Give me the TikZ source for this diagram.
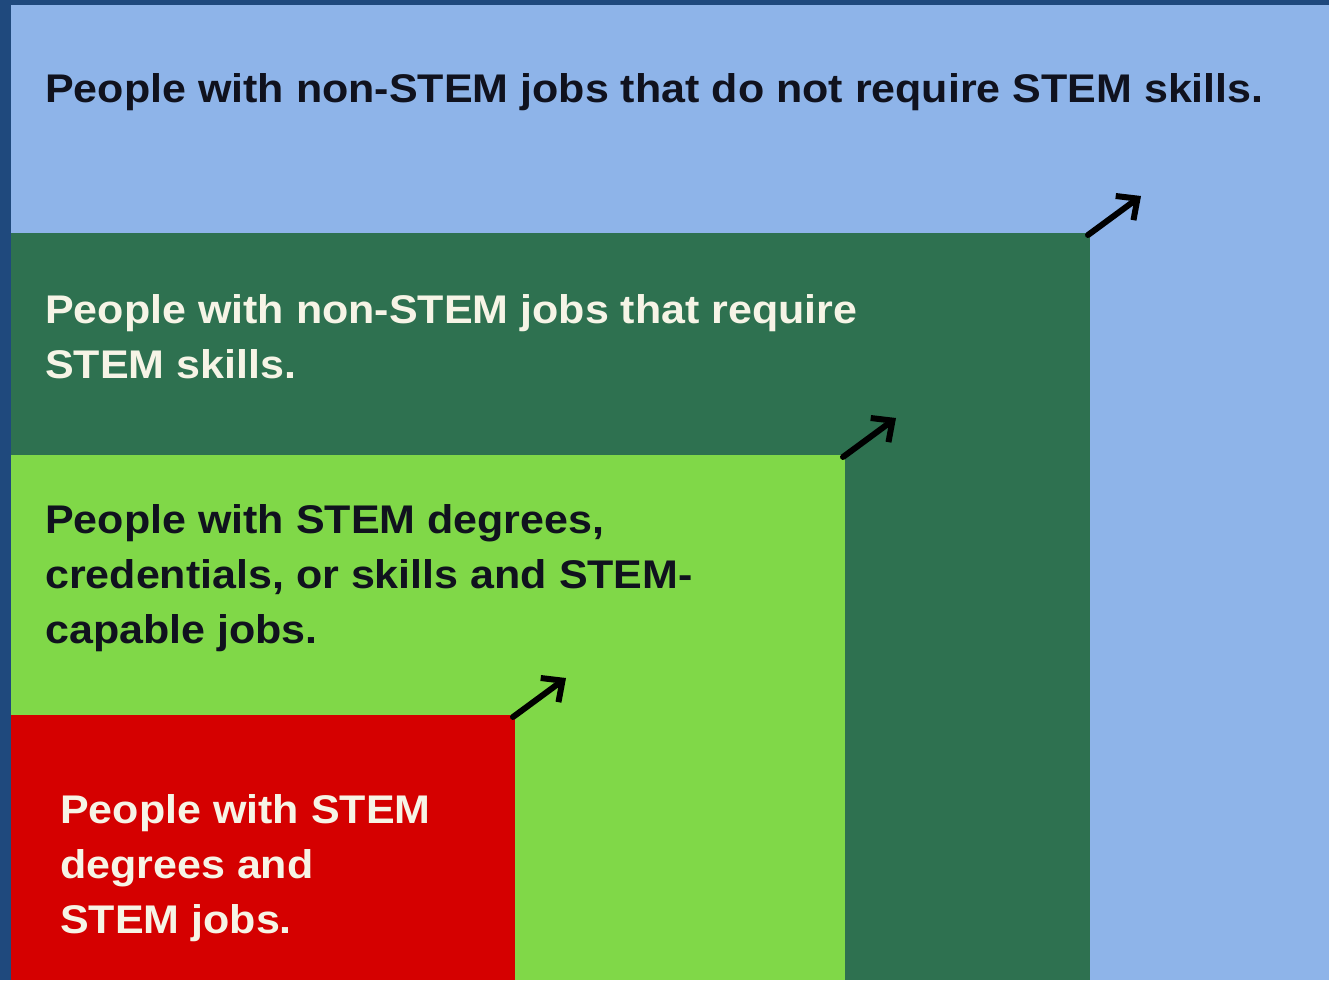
\documentclass[tikz,border=0pt]{standalone}
\usepackage{fontspec}
\setmainfont{Liberation Sans}[FakeStretch=1.075]
\usetikzlibrary{arrows.meta}
\definecolor{borderblue}{HTML}{1F497D}
\definecolor{lightblue}{HTML}{8EB4E9}
\definecolor{darkgreen}{HTML}{2E7150}
\definecolor{lightgreen}{HTML}{80D848}
\definecolor{stemred}{HTML}{D50000}
\definecolor{darktext}{HTML}{10121E}
\definecolor{lighttext}{HTML}{F6F4E6}
\tikzset{
  lbl/.style={anchor=base west, inner sep=0pt, font=\bfseries\fontsize{40}{55}\selectfont, align=left},
  growarrow/.style={line width=6pt, -{Straight Barb[length=16pt,width=30pt,line width=6pt]}, line cap=round, black}
}
\begin{document}
\begin{tikzpicture}[x=1pt,y=-1pt]
\useasboundingbox (0,0) rectangle (1329,980);
\fill[borderblue] (0,0) rectangle (1329,980);
\fill[lightblue] (11,5) rectangle (1329,980);
\fill[darkgreen] (11,233) rectangle (1090,980);
\fill[lightgreen] (11,455) rectangle (845,980);
\fill[stemred] (11,715) rectangle (515,980);
\coordinate (c1) at (1088,235);
\coordinate (e1) at (1141,196);
\coordinate (c2) at (843,457);
\coordinate (e2) at (896,418);
\coordinate (c3) at (513,717);
\coordinate (e3) at (566,678);
\draw[growarrow] (c1) -- (e1);
\draw[growarrow] (c2) -- (e2);
\draw[growarrow] (c3) -- (e3);
\node[lbl, text=darktext] (t1) at (45,102) {People with non-STEM jobs that do not require STEM skills.};
\node[lbl, text=lighttext] (t2) at (45,378) {People with non-STEM jobs that require\\STEM skills.};
\node[lbl, text=darktext] (t3) at (45,643) {People with STEM degrees,\\credentials, or skills and STEM-\\capable jobs.};
\node[lbl, text=lighttext] (t4) at (60,933) {People with STEM\\degrees and\\STEM jobs.};
\end{tikzpicture}
\end{document}
